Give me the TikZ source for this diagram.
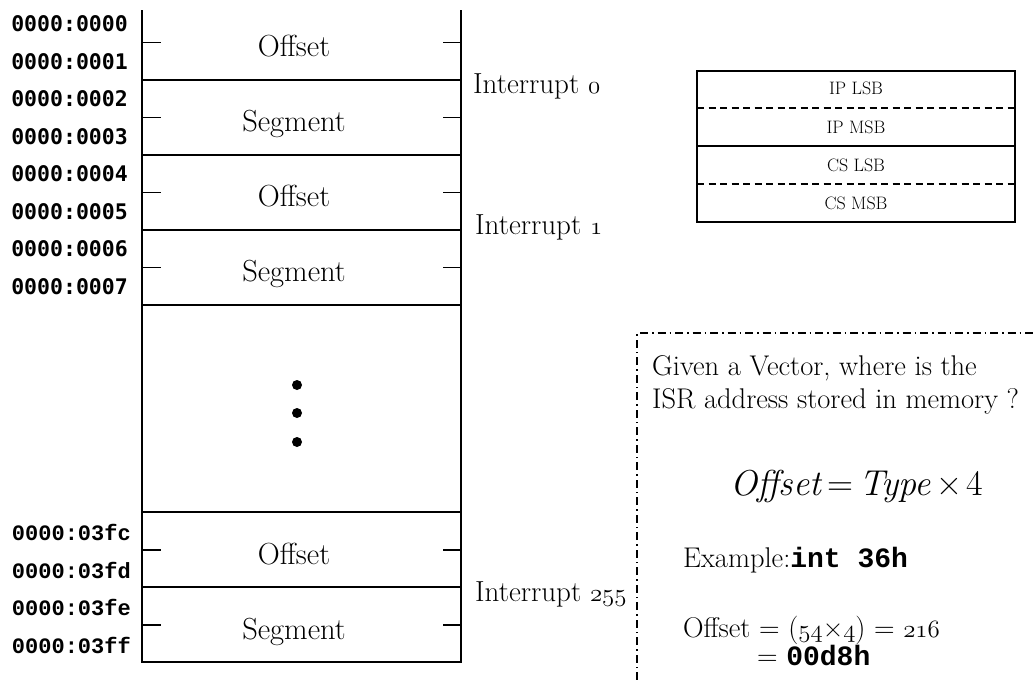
\documentclass[tikz,border=0pt]{standalone}
\usepackage{fontspec}
\newfontfamily\addrfont{DejaVu Sans Mono}
\newfontfamily\courfont{Liberation Mono}

% old-style figures taken from the math italic font
\newcommand{\osf}[1]{{\fontencoding{OML}\fontfamily{cmm}\fontseries{m}\fontshape{it}\selectfont #1}}
\newcommand{\codefont}{\courfont\bfseries\fontsize{28}{30}\selectfont}

\tikzset{
  frame/.style={line width=1.8pt},
  boxline/.style={line width=1.3pt},
  cell/.style={font=\fontsize{30.5}{34}\selectfont, anchor=base, inner sep=0pt},
  addrA/.style={font=\addrfont\bfseries\fontsize{21.5}{24}\selectfont, anchor=east, inner sep=0pt},
  addrB/.style={font=\courfont\bfseries\fontsize{22}{26}\selectfont, anchor=east, inner sep=0pt},
  irq/.style={font=\fontsize{29}{32}\selectfont, anchor=base west, inner sep=0pt},
  reg/.style={font=\fontsize{18}{20}\selectfont, inner sep=0pt},
  note/.style={font=\fontsize{28.5}{33}\selectfont, anchor=base west, inner sep=0pt},
  eqn/.style={font=\fontsize{36}{40}\selectfont, anchor=base west, inner sep=0pt},
  dot/.style={circle, fill=black, inner sep=0pt, minimum size=10pt},
}

\begin{document}
\begin{tikzpicture}[x=1pt, y=-1pt]
\useasboundingbox (0,0) rectangle (1034,680);

% ---- interrupt vector table column ----
\draw[frame] (142,10) -- (142,662) -- (461,662) -- (461,10);
\foreach \yy in {80,155,230,305,512,587}
  \draw[frame] (142,\yy) -- (461,\yy);
% half-row ticks
\foreach \yy in {42.5,117.5,192.5,267.5,550,625} {
  \draw[frame] (142,\yy) -- (161,\yy);
  \draw[frame] (443,\yy) -- (461,\yy);
}

% cell contents
\node[cell] (off0) at (294,56.5) {Offset};
\node[cell] (seg0) at (294,131.5) {Segment};
\node[cell] (off1) at (294,206.5) {Offset};
\node[cell] (seg1) at (294,281.5) {Segment};
\node[cell] (offN) at (294,564) {Offset};
\node[cell] (segN) at (294,639) {Segment};

% ellipsis
\node[dot] (d1) at (297,385) {};
\node[dot] (d2) at (297,413) {};
\node[dot] (d3) at (297,442) {};

% addresses
\node[addrA] (a0) at (128,24) {0000:0000};
\node[addrA] (a1) at (128,62) {0000:0001};
\node[addrA] (a2) at (128,99) {0000:0002};
\node[addrA] (a3) at (128,137) {0000:0003};
\node[addrA] (a4) at (128,174) {0000:0004};
\node[addrA] (a5) at (128,212) {0000:0005};
\node[addrA] (a6) at (128,249) {0000:0006};
\node[addrA] (a7) at (128,287) {0000:0007};
\node[addrB] (a8) at (131,532) {0000:03fc};
\node[addrB] (a9) at (131,570) {0000:03fd};
\node[addrB] (a10) at (131,607) {0000:03fe};
\node[addrB] (a11) at (131,645) {0000:03ff};

% interrupt labels
\node[irq] (i0) at (473,93) {Interrupt \osf{0}};
\node[irq] (i1) at (475,234) {Interrupt \osf{1}};
\node[irq] (i255) at (475,601) {Interrupt \osf{255}};

% ---- byte layout of one vector ----
\draw[boxline] (697,71) rectangle (1015,222);
\draw[boxline, dash pattern=on 7pt off 4.5pt] (697,108) -- (1015,108);
\draw[boxline] (697,146) -- (1015,146);
\draw[boxline, dash pattern=on 7pt off 4.5pt] (697,184) -- (1015,184);
\node[reg] (iplsb) at (856,88) {IP LSB};
\node[reg] (ipmsb) at (856,127) {IP MSB};
\node[reg] (cslsb) at (856,165) {CS LSB};
\node[reg] (csmsb) at (856,203) {CS MSB};

% ---- note panel ----
\draw[line width=1.6pt, dash pattern=on 8pt off 4pt on 1.5pt off 4pt]
  (637,680) -- (637,333) -- (1034,333);
\node[note] (q1) at (652,375) {Given a Vector, where is the};
\node[note] (q2) at (652,408) {ISR address stored in memory ?};
\node[eqn] (eq) at (730,495) {{\itshape Offset}\hspace{6pt}=\hspace{6pt}{\itshape Type}\hspace{5pt}×\hspace{5pt}4};
\node[note] (ex) at (683,567) {Example:{\codefont int 36h}};
\node[note] (calc) at (683,637) {Offset = (\osf{54}×\osf{4}) = \osf{216}};
\node[note] (res) at (757,665) {= {\codefont 00d8h}};
\end{tikzpicture}
\end{document}
